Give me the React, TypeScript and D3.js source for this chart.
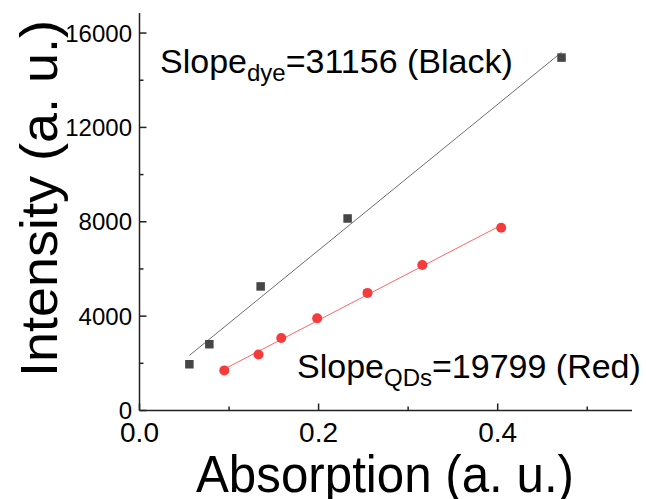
import React from "react";
import * as d3 from "d3";

const dyeX = [0.0557, 0.078, 0.1353, 0.2324, 0.4713];
const dyeY = [1960, 2810, 5260, 8140, 14960];
const qdX = [0.0947, 0.1329, 0.1583, 0.1984, 0.2546, 0.3158, 0.4039];
const qdY = [1700, 2371, 3071, 3914, 4986, 6171, 7743];
const xTicks = [0, 0.2, 0.4];
const xMinor = [0.1, 0.3, 0.5];
const yTicks = [0, 4000, 8000, 12000, 16000];
const yMinor = [2000, 6000, 10000, 14000];

const W = 646, H = 499;
const FONT = "'Liberation Sans', Arial, sans-serif";

function fit(xs: number[], ys: number[]) {
  const mx = d3.mean(xs)!, my = d3.mean(ys)!;
  let sxy = 0, sxx = 0;
  xs.forEach((x, i) => { sxy += (x - mx) * (ys[i] - my); sxx += (x - mx) * (x - mx); });
  const b = sxy / sxx;
  const a = my - b * mx;
  const x0 = d3.min(xs)!, x1 = d3.max(xs)!;
  return [[x0, a + b * x0], [x1, a + b * x1]] as [number, number][];
}

export default function App() {
  const x = d3.scaleLinear().domain([0, 0.55]).range([139.5, 632]);
  const y = d3.scaleLinear().domain([0, 16850]).range([410.5, 13]);
  const line = d3.line<[number, number]>().x(d => x(d[0])).y(d => y(d[1]));
  const dyeFit = fit(dyeX, dyeY);
  const qdFit = fit(qdX, qdY);
  const axisColor = "#222";
  return (
    <svg width={W} height={H} style={{ position: "absolute", left: 0, top: 0 }} fontFamily={FONT}>
      <rect width={W} height={H} fill="#fff" />
      {/* fit lines */}
      <path d={line(dyeFit)!} stroke="#6e6e6e" strokeWidth={1} fill="none" />
      <path d={line(qdFit)!} stroke="#f66" strokeWidth={1} fill="none" />
      {/* points */}
      {dyeX.map((v, i) => (
        <rect key={"d" + i} x={x(v) - 4.25} y={y(dyeY[i]) - 4.25} width={8.5} height={8.5} fill="#464646" />
      ))}
      {qdX.map((v, i) => (
        <circle key={"q" + i} cx={x(v)} cy={y(qdY[i])} r={5} fill="#f53c3c" />
      ))}
      {/* axes */}
      <line x1={x.range()[0]} x2={x.range()[1]} y1={y(0)} y2={y(0)} stroke={axisColor} strokeWidth={1.5} />
      <line x1={x(0)} x2={x(0)} y1={y.range()[0]} y2={y.range()[1]} stroke={axisColor} strokeWidth={1.5} />
      {xTicks.map(t => (
        <g key={"xt" + t}>
          <line x1={x(t)} x2={x(t)} y1={y(0)} y2={y(0) - 7} stroke={axisColor} strokeWidth={1.5} />
          <text x={x(t)} y={442} textAnchor="middle" fontSize={28} fill="#000">{d3.format(".1f")(t)}</text>
        </g>
      ))}
      {xMinor.map(t => (
        <line key={"xm" + t} x1={x(t)} x2={x(t)} y1={y(0)} y2={y(0) - 4} stroke={axisColor} strokeWidth={1.5} />
      ))}
      {yTicks.map(t => (
        <g key={"yt" + t}>
          <line x1={x(0)} x2={x(0) + 7} y1={y(t)} y2={y(t)} stroke={axisColor} strokeWidth={1.5} />
          <text x={132} y={y(t)} dy="0.36em" textAnchor="end" fontSize={24} fill="#000">{t}</text>
        </g>
      ))}
      {yMinor.map(t => (
        <line key={"ym" + t} x1={x(0)} x2={x(0) + 4} y1={y(t)} y2={y(t)} stroke={axisColor} strokeWidth={1.5} />
      ))}
      {/* axis titles */}
      <text x={196} y={492} fontSize={52} fill="#000" textLength={378} lengthAdjust="spacingAndGlyphs">Absorption (a. u.)</text>
      <text transform="translate(57,377) rotate(-90)" fontSize={52} fill="#000" textLength={357} lengthAdjust="spacingAndGlyphs">Intensity (a. u.)</text>
      {/* annotations */}
      <text x={160} y={73} fontSize={34} fill="#000">
        Slope<tspan fontSize={24} dy={8}>dye</tspan><tspan dy={-8}>=31156 (Black)</tspan>
      </text>
      <text x={297} y={378} fontSize={34} fill="#000">
        Slope<tspan fontSize={24} dy={8}>QDs</tspan><tspan dy={-8}>=19799 (Red)</tspan>
      </text>
    </svg>
  );
}
